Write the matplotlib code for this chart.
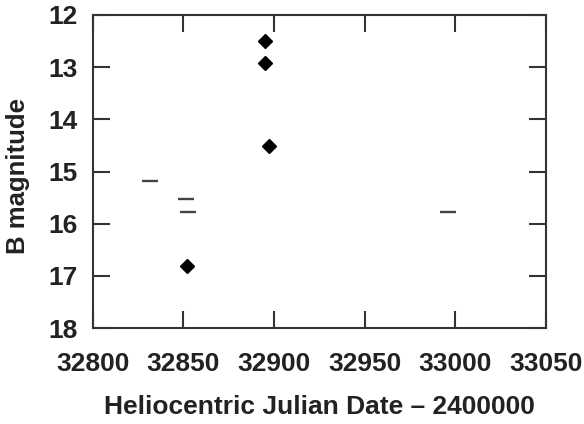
import matplotlib
matplotlib.use("Agg")
import matplotlib.pyplot as plt

# detections (diamonds)
det_jd = [32895, 32895, 32897, 32852]
det_mag = [12.51, 12.93, 14.52, 16.81]

# upper limits (short dashes)
lim_jd = [32831.5, 32851.5, 32852.5, 32996]
lim_mag = [15.18, 15.52, 15.78, 15.78]

xticks = [32800, 32850, 32900, 32950, 33000, 33050]
yticks = [12, 13, 14, 15, 16, 17, 18]

plt.rcParams['font.family'] = ['Liberation Sans', 'DejaVu Sans']
plt.rcParams['font.weight'] = 'bold'

fig = plt.figure(figsize=(5.84, 4.24), dpi=100)
ax = fig.add_axes([0.159, 0.226, 0.776, 0.739])

ink = '#333333'
ax.plot(det_jd, det_mag, 'D', color='black', ms=7.5, ls='none')
ax.plot(lim_jd, lim_mag, '_', color='#444444', ms=12.2, mew=1.7, ls='none')

ax.set_xlim(32800, 33050)
ax.set_ylim(18, 12)
ax.set_xticks(xticks)
ax.set_yticks(yticks)
ax.tick_params(direction='in', length=12, width=1.5, color=ink,
               top=True, right=True, labelsize=19, labelcolor='#222222')
ax.tick_params(axis='x', pad=17)
ax.tick_params(axis='y', pad=11)
for s in ax.spines.values():
    s.set_linewidth(1.5)
    s.set_color(ink)

ax.set_xlabel('Heliocentric Julian Date \u2013 2400000', fontsize=19, fontweight='bold', color='#222222')
ax.xaxis.set_label_coords(0.5, -0.213)
ax.set_ylabel('B magnitude', fontsize=18.5, fontweight='bold', color='#222222')
ax.yaxis.set_label_coords(-0.138, 0.487)

fig.savefig('out.png', dpi=100)
